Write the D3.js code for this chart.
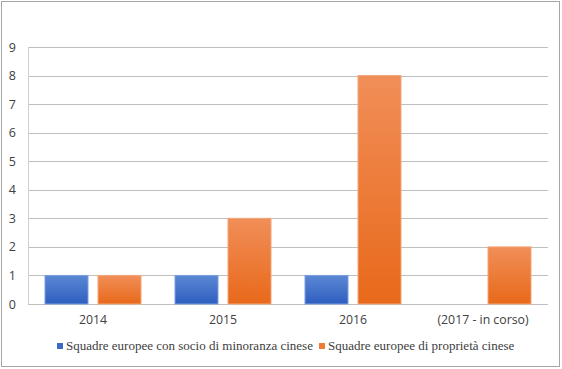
<!DOCTYPE html>
<html lang="it">
<head>
<meta charset="utf-8">
<title>Squadre europee</title>
<style>
  body { margin: 0; background: #fff; }
  svg { display: block; }
</style>
</head>
<body>
<script src="https://d3js.org/d3.v7.min.js"></script>
<script>
var categories = ["2014", "2015", "2016", "(2017 - in corso)"];
var seriesNames = ["Squadre europee con socio di minoranza cinese", "Squadre europee di proprietà cinese"];
var minoranza = [1, 1, 1, 0];
var proprieta = [1, 3, 8, 2];
var yTicks = [0, 1, 2, 3, 4, 5, 6, 7, 8, 9];

var width = 562, height = 369;
var margin = {top: 47, right: 14, bottom: 65, left: 28};

var svg = d3.select("body").append("svg")
    .attr("width", width)
    .attr("height", height);

var defs = svg.append("defs");
function grad(id, top, bottom) {
  var g = defs.append("linearGradient").attr("id", id)
      .attr("x1", 0).attr("y1", 0).attr("x2", 0).attr("y2", 1);
  g.append("stop").attr("offset", "0%").attr("stop-color", top);
  g.append("stop").attr("offset", "100%").attr("stop-color", bottom);
}
grad("gBlue", "#5b87d4", "#2e5fbf");
grad("gOrange", "#f18e58", "#e8691a");

// cornice esterna
svg.append("rect")
    .attr("x", 1.5).attr("y", 1.5)
    .attr("width", width - 4).attr("height", height - 4)
    .attr("fill", "none").attr("stroke", "#a6a6a6").attr("stroke-width", 1);

var x = d3.scaleBand()
    .domain(categories)
    .range([margin.left, width - margin.right]);

var y = d3.scaleLinear()
    .domain([0, 9])
    .range([height - margin.bottom, margin.top]);

// griglia
svg.append("g")
    .selectAll("line")
    .data(yTicks)
    .enter().append("line")
    .attr("x1", margin.left).attr("x2", width - margin.right)
    .attr("y1", function(d){ return Math.round(y(d)) + 0.5; })
    .attr("y2", function(d){ return Math.round(y(d)) + 0.5; })
    .attr("stroke", "#bfbfbf").attr("stroke-width", 1);

// asse verticale
svg.append("line")
    .attr("x1", margin.left + 0.5).attr("x2", margin.left + 0.5)
    .attr("y1", y(9)).attr("y2", y(0))
    .attr("stroke", "#d0d0d0");

var yAxis = svg.append("g")
    .attr("transform", "translate(" + margin.left + ",0)")
    .call(d3.axisLeft(y).tickValues(yTicks).tickSize(0).tickPadding(12));
yAxis.attr("font-family", "Open Sans");
yAxis.select(".domain").remove();
yAxis.selectAll("text")
    .attr("font-size", 12.5).attr("fill", "#404040");

var xAxis = svg.append("g")
    .attr("transform", "translate(0," + y(0) + ")")
    .call(d3.axisBottom(x).tickSize(0).tickPadding(11));
xAxis.attr("font-family", "Open Sans");
xAxis.select(".domain").remove();
xAxis.selectAll("text")
    .attr("font-size", 12.3).attr("fill", "#404040");

var barW = 43, gap = 10;
var off = (x.bandwidth() - (2 * barW + gap)) / 2;

function drawBars(values, shift, fill, stroke) {
  svg.append("g").selectAll("rect")
      .data(values.map(function(v, i){ return {c: categories[i], v: v}; }).filter(function(d){ return d.v > 0; }))
      .enter().append("rect")
      .attr("x", function(d){ return x(d.c) + off + shift; })
      .attr("y", function(d){ return y(d.v); })
      .attr("width", barW)
      .attr("height", function(d){ return y(0) - y(d.v); })
      .attr("fill", fill)
      .attr("stroke", stroke).attr("stroke-width", 1);
}
drawBars(minoranza, 0, "url(#gBlue)", "#7a9fe0");
drawBars(proprieta, barW + gap, "url(#gOrange)", "#f4a67a");

// legenda
var legend = [
  {name: seriesNames[0], fill: "#3a6bc9", x: 57},
  {name: seriesNames[1], fill: "#ef7b30", x: 319}
];
var lg = svg.append("g").selectAll("g").data(legend).enter().append("g")
    .attr("transform", function(d){ return "translate(" + d.x + ",343)"; });
lg.append("rect").attr("width", 6).attr("height", 6).attr("y", 0)
    .attr("fill", function(d){ return d.fill; });
lg.append("text")
    .attr("x", 9).attr("y", 7)
    .attr("font-family", "Liberation Serif")
    .attr("font-size", 13).attr("fill", "#404040")
    .text(function(d){ return d.name; });
</script>
</body>
</html>
